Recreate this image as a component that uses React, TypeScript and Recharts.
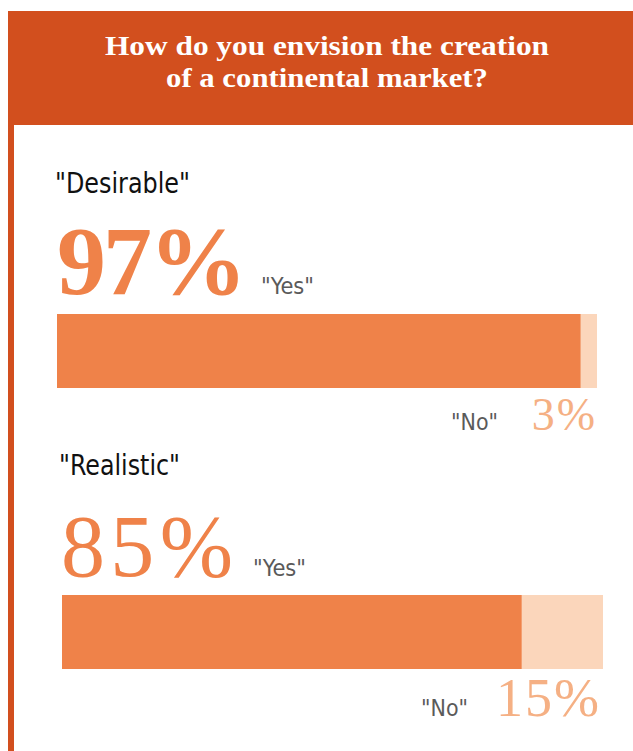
import React from 'react';
import { BarChart, Bar, XAxis, YAxis } from 'recharts';

const questions = ['"Desirable"', '"Realistic"'];
const yesValues = [97, 85];
const noValues = [3, 15];
const answerLabels = ['"Yes"', '"No"'];

const HEADER = '#D24F1E';
const YES_COLOR = '#EF8249';
const NO_COLOR = '#FBD6BB';
const NO_TEXT = '#F5B084';

const serif = '"Liberation Serif", "DejaVu Serif", serif';
const narrow = '"Liberation Sans Narrow", "DejaVu Sans Condensed", "DejaVu Sans", sans-serif';

// layout of each block (page coordinates)
const blocks = [
  { qx: 55, qy: 193, qw: 135, bigX: 57, bigY: 294, bigSize: 98, bigW: 190, bold: true, yesX: 261, bar: { x: 57, y: 314, w: 540, h: 74 }, noX: 451, noY: 430, pctEnd: 597, pctSize: 46 },
  { qx: 59, qy: 475, qw: 121, bigX: 61, bigY: 576, bigSize: 88, bigW: 172, bold: false, yesX: 253, bar: { x: 62, y: 595, w: 541, h: 74 }, noX: 421, noY: 716, pctEnd: 601, pctSize: 54 },
];

const SplitBar: React.FC<{ yes: number; no: number; w: number; h: number }> = ({ yes, no, w, h }) => {
  const data = [{ name: 'share', yes, no }];
  return (
    <BarChart width={w} height={h} data={data} layout="vertical" margin={{ top: 0, right: 0, bottom: 0, left: 0 }} barCategoryGap={0}>
      <XAxis type="number" domain={[0, 100]} hide />
      <YAxis type="category" dataKey="name" hide />
      <Bar dataKey="yes" stackId="a" fill={YES_COLOR} isAnimationActive={false} />
      <Bar dataKey="no" stackId="a" fill={NO_COLOR} isAnimationActive={false} />
    </BarChart>
  );
};

export default function App() {
  return (
    <div style={{ position: 'absolute', left: 0, top: 0, width: 633, height: 751, background: '#fff', overflow: 'hidden' }}>
      {/* header and left rule */}
      <div style={{ position: 'absolute', left: 8, top: 11, width: 625, height: 114, background: HEADER }} />
      <div style={{ position: 'absolute', left: 8, top: 125, width: 6, height: 626, background: HEADER }} />

      {blocks.map((b, i) => (
        <div key={i} style={{ position: 'absolute', left: b.bar.x, top: b.bar.y }}>
          <SplitBar yes={yesValues[i]} no={noValues[i]} w={b.bar.w} h={b.bar.h} />
        </div>
      ))}

      <svg width={633} height={751} style={{ position: 'absolute', left: 0, top: 0, pointerEvents: 'none' }}>
        <text x={105} y={55} fill="#fff" fontFamily={serif} fontWeight="bold" fontSize={27}
          textLength={444} lengthAdjust="spacingAndGlyphs">
          How do you envision the creation
        </text>
        <text x={166} y={87} fill="#fff" fontFamily={serif} fontWeight="bold" fontSize={27}
          textLength={322} lengthAdjust="spacingAndGlyphs">
          of a continental market?
        </text>

        {blocks.map((b, i) => (
          <g key={i}>
            <text x={b.qx} y={b.qy} fill="#111" fontFamily={narrow} fontSize={29}
              textLength={b.qw} lengthAdjust="spacingAndGlyphs">{questions[i]}</text>
            <text x={b.bigX} y={b.bigY} fill={YES_COLOR} fontFamily={serif} fontWeight={b.bold ? 'bold' : 'normal'}
              fontSize={b.bigSize} textLength={b.bigW} lengthAdjust="spacing">
              {yesValues[i]}%
            </text>
            <text x={b.yesX} y={b.bigY} fill="#5a5a5a" fontFamily={narrow} fontSize={23}
              textLength={53} lengthAdjust="spacingAndGlyphs">{answerLabels[0]}</text>
            <text x={b.noX} y={b.noY} fill="#5a5a5a" fontFamily={narrow} fontSize={23}
              textLength={47} lengthAdjust="spacingAndGlyphs">{answerLabels[1]}</text>
            <text x={b.pctEnd} y={b.noY} textAnchor="end" fill={NO_TEXT} fontFamily={serif} fontSize={b.pctSize} letterSpacing={2}>
              {noValues[i]}%
            </text>
          </g>
        ))}
      </svg>
    </div>
  );
}
